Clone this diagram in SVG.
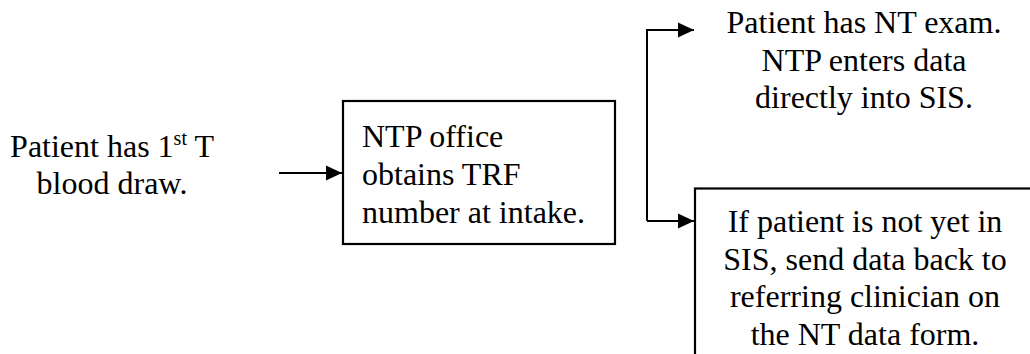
<svg xmlns="http://www.w3.org/2000/svg" width="1030" height="354" viewBox="0 0 1030 354">
<style>
text { font-family: "Liberation Serif", "Times New Roman", serif; font-size: 32px; fill: #000; }
.box { fill: #fff; stroke: #000; stroke-width: 2.2; }
.conn { fill: none; stroke: #000; stroke-width: 2; }
.c { text-anchor: middle; }
</style>
<defs>
<marker id="arr" markerUnits="userSpaceOnUse" markerWidth="16" markerHeight="16" refX="16" refY="8" orient="auto">
<path d="M0,0.5 L16,8 L0,15.5 Z" fill="#000"/>
</marker>
</defs>
<rect width="1030" height="354" fill="#fff"/>
<g id="n1">
<text class="c" x="112" y="157">Patient has 1<tspan font-size="20" dy="-12">st</tspan><tspan dy="12"> T</tspan></text>
<text class="c" x="112" y="194">blood draw.</text>
</g>
<g id="n2">
<rect class="box" x="343" y="101" width="272" height="143"/>
<text x="362" y="147">NTP office</text>
<text x="362" y="185">obtains TRF</text>
<text x="362" y="223">number at intake.</text>
</g>
<g id="n3">
<text class="c" x="864" y="33">Patient has NT exam.</text>
<text class="c" x="864" y="70.5">NTP enters data</text>
<text class="c" x="864" y="108">directly into SIS.</text>
</g>
<g id="n4">
<rect class="box" x="695" y="188.5" width="345" height="180"/>
<text class="c" x="865" y="232">If patient is not yet in</text>
<text class="c" x="865" y="269.5">SIS, send data back to</text>
<text class="c" x="865" y="307">referring clinician on</text>
<text class="c" x="865" y="344.5">the NT data form.</text>
</g>
<g id="connectors">
<path class="conn" d="M279,173 L342,173" marker-end="url(#arr)"/>
<path class="conn" d="M647,221 L647,30 L694,30" marker-end="url(#arr)"/>
<path class="conn" d="M647,221 L694,221" marker-end="url(#arr)"/>
</g>
</svg>
